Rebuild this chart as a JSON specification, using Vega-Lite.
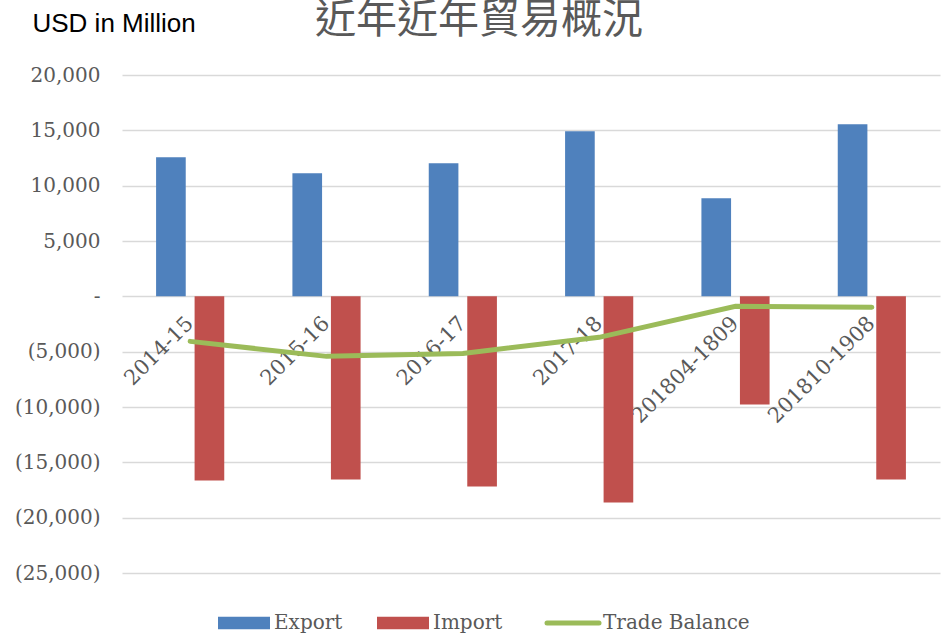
{
  "$schema": "https://vega.github.io/schema/vega-lite/v6.json",
  "width": 818,
  "height": 498,
  "autosize": "none",
  "padding": {"left": 122, "top": 75, "right": 2, "bottom": 64},
  "background": "white",
  "config": {"view": {"stroke": null}, "font": "DejaVu Serif"},
  "title": {
    "text": "近年近年貿易概況",
    "font": "Noto Sans CJK TC",
    "fontSize": 41,
    "fontWeight": "normal",
    "color": "#595959",
    "anchor": "middle",
    "frame": "group",
    "baseline": "middle",
    "offset": 0,
    "dx": -52,
    "dy": 52
  },
  "data": {
    "values": [
      {"period": "2014-15", "series": "Export", "value": 12570},
      {"period": "2015-16", "series": "Export", "value": 11120},
      {"period": "2016-17", "series": "Export", "value": 12025},
      {"period": "2017-18", "series": "Export", "value": 14920},
      {"period": "201804-1809", "series": "Export", "value": 8860},
      {"period": "201810-1908", "series": "Export", "value": 15550},
      {"period": "2014-15", "series": "Import", "value": -16640},
      {"period": "2015-16", "series": "Import", "value": -16545},
      {"period": "2016-17", "series": "Import", "value": -17180},
      {"period": "2017-18", "series": "Import", "value": -18625},
      {"period": "201804-1809", "series": "Import", "value": -9765},
      {"period": "201810-1908", "series": "Import", "value": -16545},
      {"period": "2014-15", "series": "Trade Balance", "value": -4070},
      {"period": "2015-16", "series": "Trade Balance", "value": -5425},
      {"period": "2016-17", "series": "Trade Balance", "value": -5155},
      {"period": "2017-18", "series": "Trade Balance", "value": -3705},
      {"period": "201804-1809", "series": "Trade Balance", "value": -905},
      {"period": "201810-1908", "series": "Trade Balance", "value": -995}
    ]
  },
  "encoding": {
    "x": {
      "field": "period",
      "type": "nominal",
      "sort": ["2014-15", "2015-16", "2016-17", "2017-18", "201804-1809", "201810-1908"],
      "scale": {"paddingInner": 0.5, "paddingOuter": 0.25},
      "axis": {
        "title": null,
        "domain": false,
        "ticks": false,
        "offset": -277,
        "labelAngle": -45,
        "labelAlign": "right",
        "labelBaseline": "middle",
        "labelPadding": 24,
        "labelFontSize": 21,
        "labelColor": "#595959",
        "labelFont": "DejaVu Serif"
      }
    },
    "y": {
      "field": "value",
      "type": "quantitative",
      "scale": {"domain": [-25000, 20000], "nice": false},
      "axis": {
        "values": [-25000, -20000, -15000, -10000, -5000, 0, 5000, 10000, 15000, 20000],
        "labelExpr": "datum.value == 0 ? '-' : (datum.value < 0 ? '(' + format(-datum.value, ',') + ')' : format(datum.value, ','))",
        "domain": false,
        "ticks": false,
        "labelPadding": 22,
        "labelFontSize": 20,
        "labelColor": "#595959",
        "labelFont": "DejaVu Serif",
        "gridColor": "#D9D9D9",
        "gridWidth": 1.3,
        "title": "USD in Million",
        "titleAngle": 0,
        "titleFont": "Liberation Sans",
        "titleFontSize": 26,
        "titleFontWeight": "normal",
        "titleColor": "#000000",
        "titleAlign": "left",
        "titleBaseline": "alphabetic",
        "titleX": -90,
        "titleY": -44
      }
    },
    "color": {
      "field": "series",
      "type": "nominal",
      "scale": {"domain": ["Export", "Import", "Trade Balance"], "range": ["#4F81BD", "#C0504D", "#9BBB59"]},
      "legend": {
        "title": null,
        "orient": "none",
        "direction": "horizontal",
        "legendX": 112,
        "legendY": 538,
        "labelFontSize": 20,
        "labelColor": "#595959",
        "labelFont": "DejaVu Serif",
        "labelOffset": 20,
        "columnPadding": 34,
        "symbolSize": 2704,
        "encode": {
          "symbols": {
            "update": {
              "shape": {"signal": "datum.value === 'Trade Balance' ? 'M-1,0H1' : 'M-1,-0.24H1V0.24H-1Z'"},
              "strokeWidth": {"signal": "datum.value === 'Trade Balance' ? 5 : 0"},
              "strokeCap": {"value": "round"},
              "fill": {"scale": "color", "field": "value"},
              "stroke": {"scale": "color", "field": "value"},
              "opacity": {"value": 1},
              "fillOpacity": {"value": 1}
            }
          }
        }
      }
    }
  },
  "layer": [
    {
      "transform": [{"filter": "datum.series !== 'Trade Balance'"}],
      "mark": {"type": "bar"},
      "encoding": {
        "xOffset": {"field": "series", "type": "nominal", "sort": ["Export", "Import"], "scale": {"paddingInner": 0.23}}
      }
    },
    {
      "transform": [{"filter": "datum.series === 'Trade Balance'"}],
      "mark": {"type": "line", "strokeWidth": 5, "interpolate": "linear", "strokeCap": "round"}
    }
  ]
}
